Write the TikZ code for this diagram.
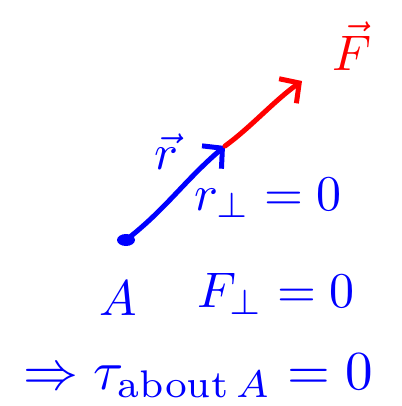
\documentclass[tikz,border=0pt]{standalone}
\usepackage{amsmath,amssymb}
\usetikzlibrary{positioning,arrows.meta}
\tikzset{
  pen/.style={line width=5pt,line cap=round,line join=round},
  ink/.style={blue,scale=5,inner sep=0pt},
}
\begin{document}
\begin{tikzpicture}[x=1pt,y=-1pt,>={Straight Barb[length=14pt,width=30pt]}]
\useasboundingbox (0,0) rectangle (401,406);
\coordinate (A) at (126,240);
\coordinate (rtip) at (225,146);
\coordinate (Ftip) at (302,81);
% point A
\fill[blue] (A) ellipse (9 and 6);
% position vector and force
\draw[pen,blue,->] (A) .. controls (165,210) and (185,180) .. (rtip);
\draw[pen,red,->] (rtip) .. controls (250,128) and (275,100) .. (Ftip);
% labels
\node[ink] (rvec) at (166,152) {$\vec{r}$};
\node[ink,red] (Fvec) at (352,46) {$\vec{F}$};
\node[ink] (rperp) at (268,198) {$r_{\perp}=0$};
\node[ink] (Alabel) at (118,298) {$A$};
\node[ink] (Fperp) at (276,294) {$F_{\perp}=0$};
\node[ink,scale=1.1] (tau) at (198,376) {$\Rightarrow \tau_{\text{about}\,A}=0$};
\end{tikzpicture}
\end{document}
